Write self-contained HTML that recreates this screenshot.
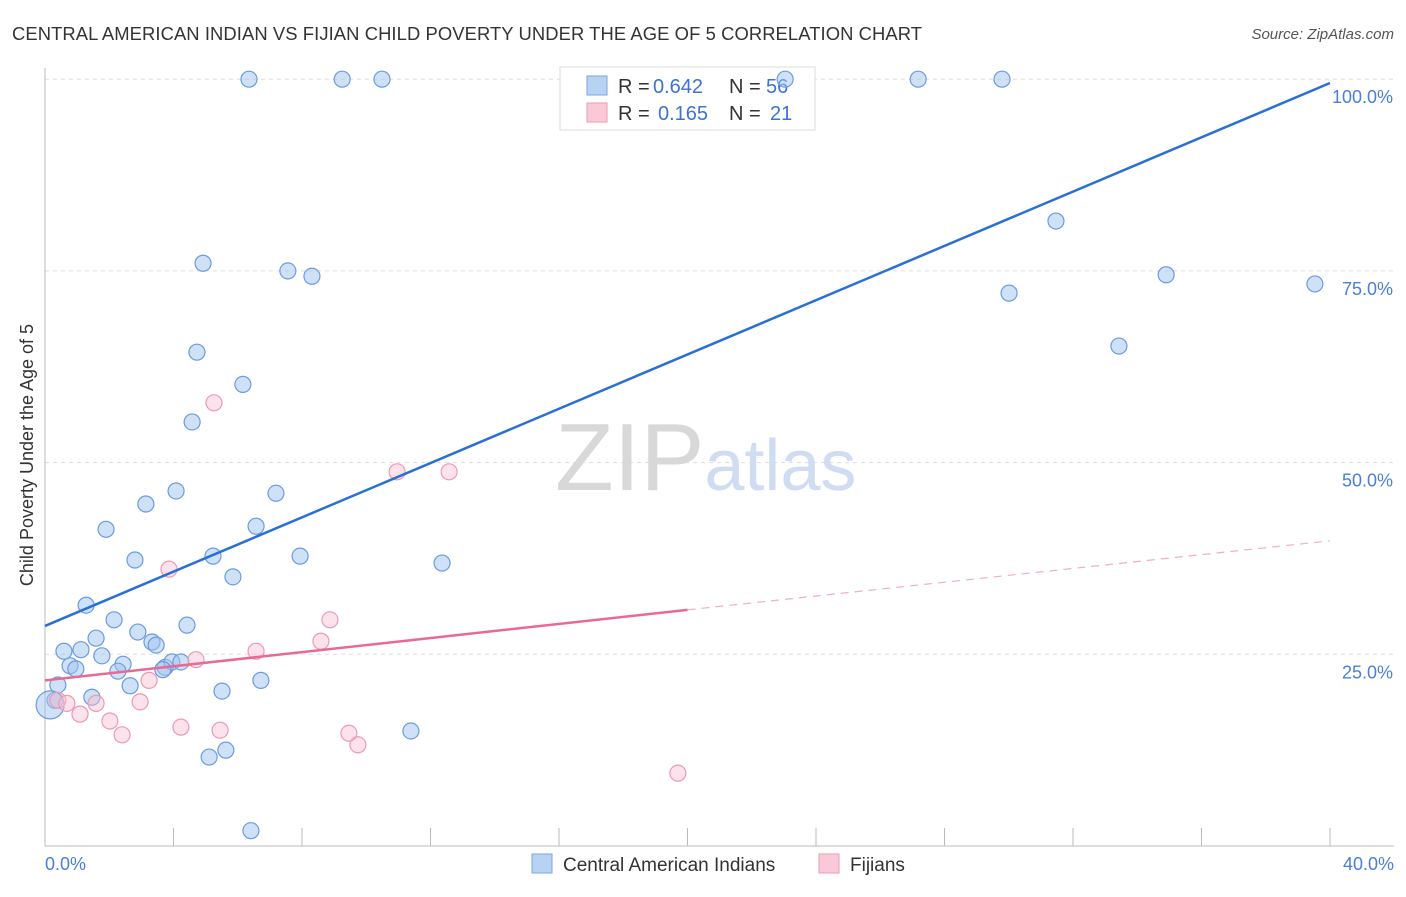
<!DOCTYPE html>
<html><head><meta charset="utf-8"><style>
body{margin:0;background:#fff;font-family:"Liberation Sans",sans-serif}
svg text{font-family:"Liberation Sans",sans-serif}
</style></head><body>
<svg id="chart" width="1406" height="892">
<text x="12" y="40" font-size="18.4" fill="#333" textLength="910">CENTRAL AMERICAN INDIAN VS FIJIAN CHILD POVERTY UNDER THE AGE OF 5 CORRELATION CHART</text>
<text x="1394" y="39" font-size="15" fill="#555" text-anchor="end" font-style="italic">Source: ZipAtlas.com</text>
<g id="grid"></g>
<text x="555" y="490" font-size="96" fill="#d8d8d8" font-family="Liberation Serif">ZIP<tspan fill="#cfdcf2" font-family="Liberation Sans" font-size="72">atlas</tspan></text>
<text transform="translate(33,455) rotate(-90)" font-size="18" fill="#333" text-anchor="middle">Child Poverty Under the Age of 5</text>
<g>
<rect x="560" y="67" width="255" height="63" fill="#fff" stroke="#ddd"/>
<rect x="587" y="76" width="20" height="19" fill="#b8d2f4" stroke="#7aa6e6"/>
<rect x="587" y="103" width="20" height="19" fill="#f9c9d7" stroke="#ee9ab4"/>
<text x="618" y="93" font-size="20" fill="#333">R =</text>
<text x="653" y="93" font-size="20" fill="#3b73d4">0.642</text>
<text x="729" y="93" font-size="20" fill="#333">N =</text>
<text x="766" y="93" font-size="20" fill="#3b73d4">56</text>
<text x="618" y="120" font-size="20" fill="#333">R =</text>
<text x="658" y="120" font-size="20" fill="#3b73d4">0.165</text>
<text x="729" y="120" font-size="20" fill="#333">N =</text>
<text x="770" y="120" font-size="20" fill="#3b73d4">21</text>
</g>
<g id="marks"></g>
<g>
<rect x="532" y="854" width="20" height="19" fill="#b8d2f4" stroke="#7aa6e6"/>
<text x="563" y="871" font-size="19" fill="#333">Central American Indians</text>
<rect x="819" y="854" width="20" height="19" fill="#f9c9d7" stroke="#ee9ab4"/>
<text x="850" y="871" font-size="19" fill="#333">Fijians</text>
</g>
</svg>
<script>
const xTicksPct=[0,4,8,12,16,20,24,28,32,36,40];
const yTicks=[25,50,75,100];
const yTickLabels=["25.0%","50.0%","75.0%","100.0%"];
const blueX=[6.35,9.25,10.49,23.04,27.18,29.79,31.47,34.90,39.53,30.01,33.43,4.92,7.56,8.31,4.73,6.16,4.58,4.08,3.14,7.19,1.90,6.57,2.80,5.23,7.94,5.85,12.36,1.28,2.15,2.89,4.42,1.59,3.33,3.46,0.59,1.12,1.77,0.78,0.96,2.43,2.27,3.74,3.95,3.67,4.23,2.65,5.51,6.72,0.40,1.46,0.31,0.16,11.39,5.63,5.11,6.41];
const blueY=[100,100,100,100,100,100,81.5,74.5,73.3,72.1,65.2,76.0,75.0,74.3,64.4,60.2,55.3,46.3,44.6,46.0,41.3,41.7,37.3,37.8,37.8,35.1,36.9,31.4,29.5,27.9,28.8,27.1,26.6,26.2,25.4,25.6,24.8,23.5,23.1,23.7,22.8,23.3,24.0,23.0,24.0,20.9,20.2,21.6,21.0,19.4,19.0,18.4,15.0,12.5,11.6,2.0];
const pinkX=[5.26,10.96,12.58,3.86,8.87,8.59,6.57,4.70,3.24,0.40,0.68,1.59,2.96,1.09,2.02,2.40,4.23,5.45,9.46,9.74,19.70];
const pinkY=[57.8,48.8,48.8,36.1,29.5,26.7,25.4,24.3,21.6,19.0,18.6,18.6,18.8,17.2,16.3,14.5,15.5,15.1,14.7,13.2,9.5];
const blueLine=[[0,28.7],[40,99.5]];
const pinkLine=[[0,21.6],[20,30.8]];
const pinkDash=[[20,30.8],[40,39.8]];
const NS="http://www.w3.org/2000/svg";
const sx=v=>45+v*32.125, sy=v=>846-v*7.668;
function mk(tag,attrs,parent){const e=document.createElementNS(NS,tag);for(const k in attrs)e.setAttribute(k,attrs[k]);parent.appendChild(e);return e;}
const grid=document.getElementById('grid'), marks=document.getElementById('marks');
yTicks.forEach((t,i)=>{
 const l=mk('line',{x1:45,x2:1394,y1:sy(t),y2:sy(t),stroke:'#ddd','stroke-dasharray':'4,4'},grid);
 
 
 const tx=mk('text',{x:1393,y:sy(t)+24,'font-size':18,fill:'#4a7fd8','text-anchor':'end'},grid);
 tx.textContent=yTickLabels[i];
 
 
});
const ax=mk('line',{x1:45,x2:45,y1:68,y2:846,stroke:'#bbb'},grid);


const bx=mk('line',{x1:45,x2:1394,y1:846,y2:846,stroke:'#bbb'},grid);


xTicksPct.forEach(t=>{
 const l=mk('line',{x1:sx(t),x2:sx(t),y1:828,y2:846,stroke:'#bbb'},grid);
 
 
});
[[0,'0.0%','start',45],[40,'40.0%','end',1394]].forEach(a=>{
 const t=mk('text',{x:a[3],y:870,'font-size':18,fill:'#4a7fd8','text-anchor':a[2]},grid);
 t.textContent=a[1];
 
 
});
function pts(xs,ys,fill,stroke,name){xs.forEach((x,i)=>{
 const big=(name==='blue-point'&&i===blueX.length-5);
 const c=mk('circle',{cx:sx(x),cy:sy(ys[i]),r:big?14:8,fill:fill,stroke:stroke,'stroke-width':1.2},marks);
 
 
});}
pts(blueX,blueY,'rgba(160,195,240,0.5)','#6b9be0','blue-point');
pts(pinkX,pinkY,'rgba(248,190,208,0.45)','#ec9ab3','pink-point');
function ln(p,col,w,dash,name){const l=mk('line',{x1:sx(p[0][0]),y1:sy(p[0][1]),x2:sx(p[1][0]),y2:sy(p[1][1]),stroke:col,'stroke-width':w},marks);
 if(dash)l.setAttribute('stroke-dasharray',dash);
 
 }
ln(blueLine,'#2a6fd6',2.5,null,'blue-trend-line');
ln(pinkLine,'#e86a93',2.5,null,'pink-trend-line');
ln(pinkDash,'#eeb0c4',1.2,'8,6','pink-trend-extension');
</script>
</body></html>
